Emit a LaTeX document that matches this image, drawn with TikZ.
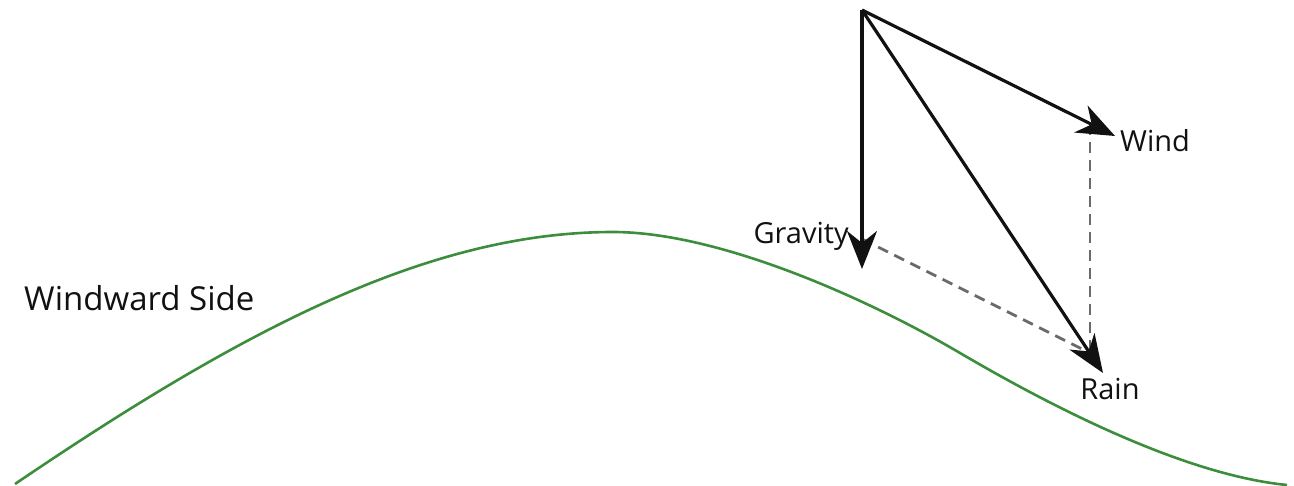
\documentclass[tikz,border=0pt]{standalone}
\usepackage{fontspec}
\setmainfont{Open Sans}
\usetikzlibrary{arrows.meta,positioning,calc}
\definecolor{ink}{HTML}{111111}
\definecolor{hill}{HTML}{3C8D3C}
\definecolor{muted}{HTML}{6A6A6A}
\tikzset{
  force/.style={-{Stealth[length=38pt,width=30pt,inset=12pt]},line width=3.2pt,draw=ink},
  guide/.style={draw=muted,line width=2.8pt,dash pattern=on 11pt off 7pt},
  ground/.style={draw=hill,line width=2.6pt},
  tag/.style={font=\fontsize{29}{34}\selectfont,text=ink,inner sep=0pt}
}

\begin{document}
\begin{tikzpicture}[x=1pt,y=-1pt]
  \useasboundingbox (0,0) rectangle (1294,486);

  % Hill profile.
  \coordinate (foot) at (15,484);
  \coordinate (crest) at (613,232);
  \coordinate (bend) at (960,353);
  \coordinate (toe) at (1287,485);
  \draw[ground] (foot) .. controls (245,328) and (430,232) .. (crest)
    .. controls (720,232) and (870,300) .. (bend)
    .. controls (1030,394) and (1175,474) .. (toe);
  \node[tag,font=\fontsize{33}{40}\selectfont,anchor=west] (side) at (24,298) {Windward Side};

  % Parallelogram of forces.
  \coordinate (O) at (862,10);
  \coordinate (G) at (862,239);
  \coordinate (W) at (1090,124);
  \coordinate (R) at (1090,353);
  \coordinate (Gtip) at (862,269);
  \coordinate (Wtip) at (1115,136);
  \coordinate (Rtip) at (1103,373);

  \draw[guide] (G) -- (R);
  \draw[guide] (W) -- (R);
  \draw[force] (O) -- (Gtip);
  \draw[force] (O) -- (Wtip);
  \draw[force] (O) -- (Rtip);

  \node[tag,anchor=east] (grav) at (849,236) {Gravity};
  \node[tag,anchor=west] (wind) at (1120,141) {Wind};
  \node[tag,anchor=north] (rain) at (1110,378) {Rain};
\end{tikzpicture}
\end{document}
